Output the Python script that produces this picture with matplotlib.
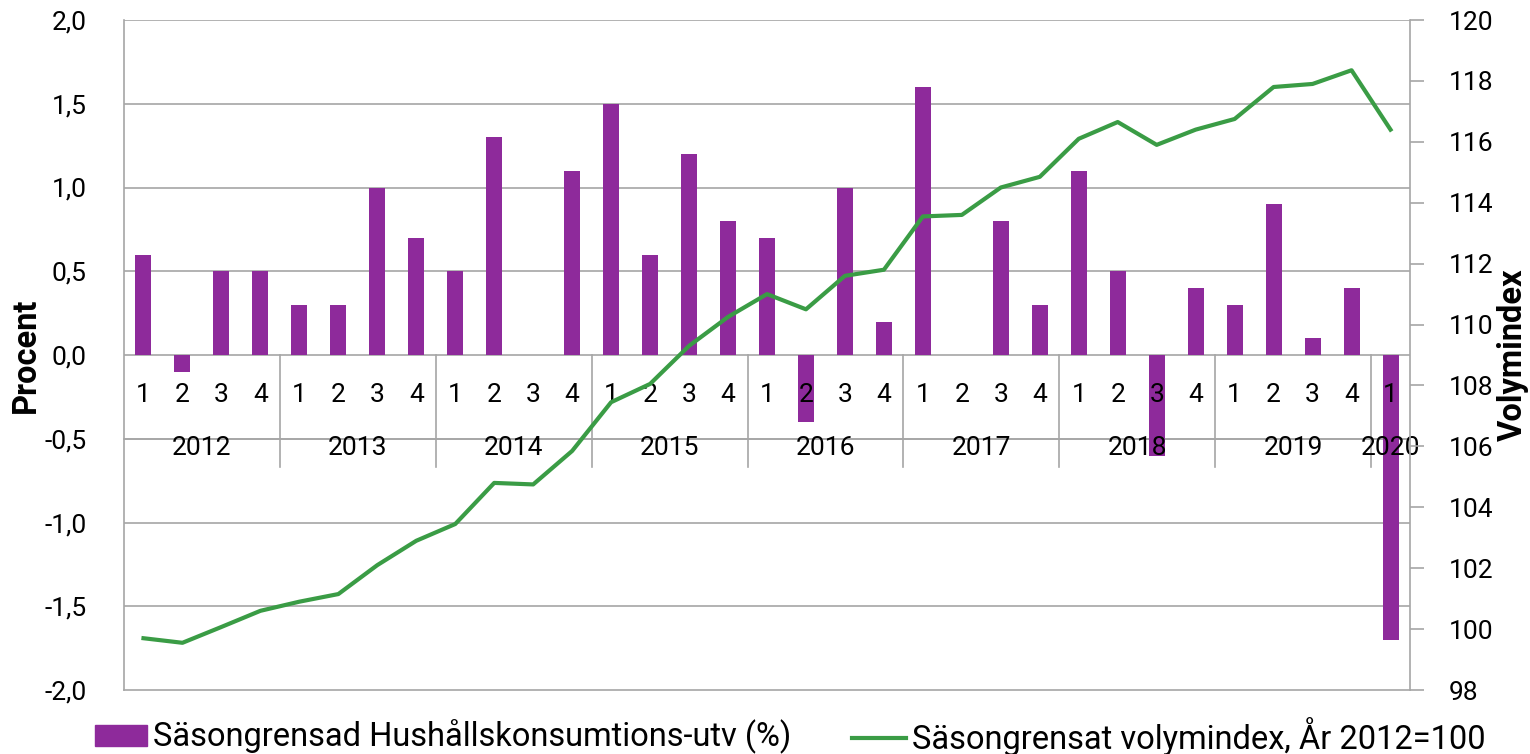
import matplotlib
matplotlib.use("Agg")
import matplotlib.pyplot as plt
from matplotlib.lines import Line2D
from matplotlib.patches import Patch
import numpy as np

plt.rcParams['font.family'] = ['Roboto', 'DejaVu Sans']

years = ['2012', '2013', '2014', '2015', '2016', '2017', '2018', '2019', '2020']
quarters = ['1', '2', '3', '4'] * 8 + ['1']

bar_values = [0.6, -0.1, 0.5, 0.5,
              0.3, 0.3, 1.0, 0.7,
              0.5, 1.3, 0.0, 1.1,
              1.5, 0.6, 1.2, 0.8,
              0.7, -0.4, 1.0, 0.2,
              1.6, 0.0, 0.8, 0.3,
              1.1, 0.5, -0.6, 0.4,
              0.3, 0.9, 0.1, 0.4,
              -1.7]

line_values = [99.7, 99.55, 100.07, 100.6,
               100.9, 101.15, 102.1, 102.9,
               103.45, 104.8, 104.75, 105.85,
               107.45, 108.05, 109.3, 110.25,
               111.0, 110.5, 111.6, 111.8,
               113.55, 113.6, 114.5, 114.85,
               116.1, 116.65, 115.9, 116.4,
               116.75, 117.8, 117.9, 118.35,
               116.4]

bar_label = 'Säsongrensad Hushållskonsumtions-utv (%)'
line_label = 'Säsongrensat volymindex, År 2012=100'

BAR_C = '#8E2A9B'
LINE_C = '#3A9C45'
GRID_C = '#A6A6A6'
TICK_FS = 19

fig = plt.figure(figsize=(15.3, 7.54), dpi=100)
ax = fig.add_axes([124/1530, 1-690/754, (1410-124)/1530, (690-20)/754])
ax2 = ax.twinx()

x = np.arange(len(bar_values))
ax.bar(x, bar_values, width=0.41, color=BAR_C, zorder=2)
ax.set_xlim(-0.5, len(bar_values) - 0.5)
ax.set_ylim(-2.0, 2.0)
yt = np.arange(-2.0, 2.01, 0.5)
ax.set_yticks(yt)
ax.set_yticklabels([f"{v:.1f}".replace('.', ',') for v in yt])
ax.tick_params(axis='y', length=0, pad=27, labelsize=TICK_FS)
ax.set_xticks([])
for v in np.arange(-1.5, 2.01, 0.5):
    ax.axhline(v, color=GRID_C, lw=1.2, zorder=1)
for s in ['top', 'right']:
    ax.spines[s].set_visible(False)
for s in ['left', 'bottom']:
    ax.spines[s].set_color(GRID_C)
    ax.spines[s].set_linewidth(1.2)
ax.set_ylabel('Procent', fontsize=23.5, fontweight='bold')
ax.yaxis.set_label_coords(-(124 - 42) / 1286, 0.5)

# category axis drawn at y=0
ax.plot([-0.5, len(x) - 0.5], [-0.5, -0.5], color=GRID_C, lw=1.2, zorder=1, clip_on=False)
seps = [-0.5 + 4 * k for k in range(9)]
for s in seps[1:]:
    ax.plot([s, s], [0, -0.67], color=GRID_C, lw=1.2, zorder=1)
for i, q in enumerate(quarters):
    ax.text(i, -0.24, q, ha='center', va='center', fontsize=TICK_FS, zorder=5)
for k, yr in enumerate(years):
    start = 4 * k
    end = min(4 * k + 3, len(x) - 1)
    ax.text((start + end) / 2, -0.555, yr, ha='center', va='center', fontsize=TICK_FS, zorder=5)

ax2.plot(x, line_values, color=LINE_C, lw=3, zorder=4)
ax2.set_ylim(98, 120)
ax2.set_yticks(np.arange(98, 121, 2))
ax2.tick_params(axis='y', length=10, color=GRID_C, width=1.2, pad=18, labelsize=TICK_FS)
for s in ['top', 'left', 'bottom']:
    ax2.spines[s].set_visible(False)
ax2.spines['right'].set_color(GRID_C)
ax2.spines['right'].set_linewidth(1.2)
ax2.set_ylabel('Volymindex', fontsize=23.5, fontweight='bold')
ax2.yaxis.set_label_coords(1 + (1497 - 1410) / 1286, 0.5)

LEG_FS = 23.5
handles = [Patch(color=BAR_C, label=bar_label)]
fig.legend(handles=handles, loc='center left', bbox_to_anchor=(95/1530, 1-737/754),
           frameon=False, fontsize=LEG_FS, handlelength=1.6, handleheight=0.61,
           handletextpad=0.18, borderaxespad=0, borderpad=0)
handles2 = [Line2D([0], [0], color=LINE_C, lw=3, label=line_label)]
fig.legend(handles=handles2, loc='center left', bbox_to_anchor=(852/1530, 1-737/754),
           frameon=False, fontsize=LEG_FS, handlelength=1.65, handletextpad=0.18,
           borderaxespad=0, borderpad=0)

fig.savefig('out.png', dpi=100)
